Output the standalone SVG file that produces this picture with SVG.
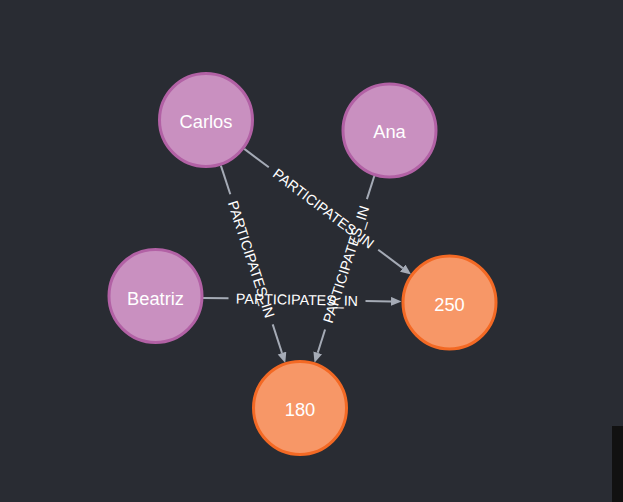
<svg xmlns="http://www.w3.org/2000/svg" width="623" height="502" viewBox="0 0 623 502">
<style>
.bg{fill:#292c33}
.person circle{fill:#c990c0;stroke:#b261a5;stroke-width:3}
.num circle{fill:#f79767;stroke:#f36924;stroke-width:3}
.node text{fill:#ffffff;font-family:"Liberation Sans",Arial,sans-serif;font-size:18.3px;text-anchor:middle}
.edge line{stroke:#a5abb6;stroke-width:2}
.edge text{fill:#ffffff;font-family:"Liberation Sans",Arial,sans-serif;font-size:14.3px;text-anchor:middle}
</style>
<defs>
<marker id="arrow" markerUnits="userSpaceOnUse" markerWidth="12" markerHeight="10" refX="0" refY="4.5" orient="auto">
<path d="M0,0 L10.5,4.5 L0,9 z" fill="#a5abb6"/>
</marker>
</defs>
<rect class="bg" x="0" y="0" width="623" height="502"/>
<rect x="612" y="426" width="11" height="76" fill="#111111"/>
<g id="connectors">
<g class="edge" id="e-carlos-250">
<line x1="244.3" y1="148.9" x2="268.8" y2="167.3"/>
<line x1="378.2" y1="249.7" x2="402.7" y2="268.1" marker-end="url(#arrow)"/>
<text x="323.5" y="208.5" dy="0.36em" transform="rotate(37 323.5 208.5)">PARTICIPATES_IN</text>
</g>
<g class="edge" id="e-carlos-180">
<line x1="220.9" y1="165.6" x2="230.3" y2="194.2"/>
<line x1="272.7" y1="324.4" x2="282" y2="353" marker-end="url(#arrow)"/>
<text x="251.5" y="259.3" dy="0.36em" transform="rotate(71.9 251.5 259.3)">PARTICIPATES_IN</text>
</g>
<g class="edge" id="e-ana-180">
<line x1="374.4" y1="175.7" x2="366.9" y2="199.1"/>
<line x1="325.1" y1="329.5" x2="317.7" y2="352.8" marker-end="url(#arrow)"/>
<text x="346" y="264.3" dy="0.36em" transform="rotate(-72.25 346 264.3)">PARTICIPATES_IN</text>
</g>
<g class="edge" id="e-beatriz-250">
<line x1="203" y1="297.9" x2="228.5" y2="298.3"/>
<line x1="365.5" y1="300.9" x2="391" y2="301.4" marker-end="url(#arrow)"/>
<text x="297" y="299.6" dy="0.36em" transform="rotate(1.07 297 299.6)">PARTICIPATES_IN</text>
</g>
</g>
<g id="carlos" class="node person"><circle cx="206" cy="120" r="46.5"/><text x="206" y="128">Carlos</text></g>
<g id="ana" class="node person"><circle cx="389.5" cy="130.5" r="46.5"/><text x="389.5" y="138.3">Ana</text></g>
<g id="beatriz" class="node person"><circle cx="155.5" cy="296" r="46.5"/><text x="155.5" y="304.7">Beatriz</text></g>
<g id="n250" class="node num"><circle cx="449.5" cy="302.5" r="46.5"/><text x="449.5" y="310.5">250</text></g>
<g id="n180" class="node num"><circle cx="300" cy="408" r="46.5"/><text x="300" y="416">180</text></g>
</svg>
